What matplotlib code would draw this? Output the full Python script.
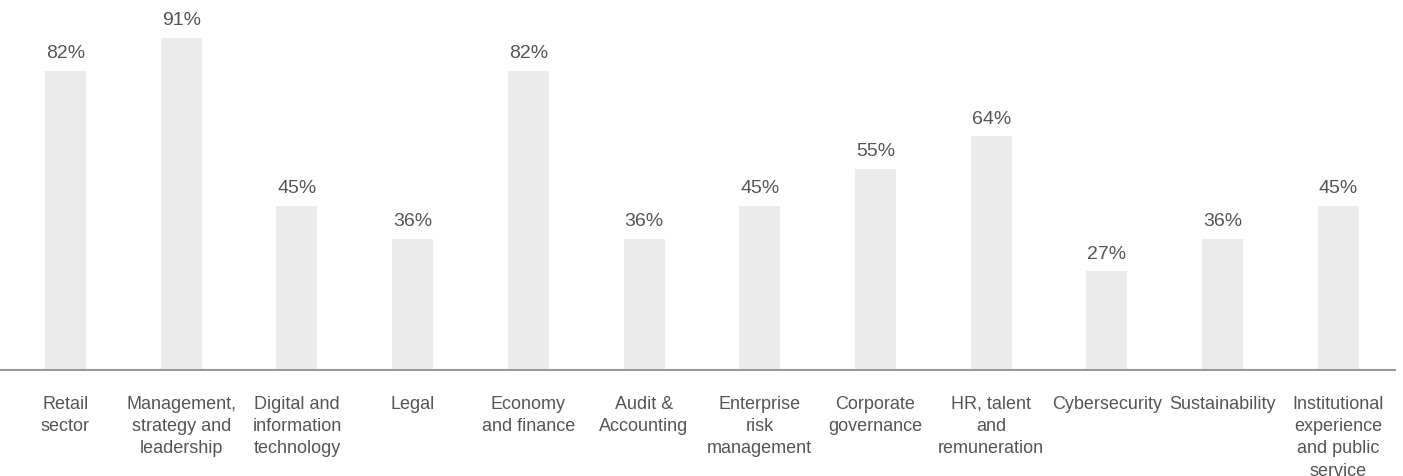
import matplotlib.pyplot as plt
import numpy as np

plt.rcParams['font.family'] = ['Liberation Sans', 'DejaVu Sans']

categories = [
    "Retail\nsector",
    "Management,\nstrategy and\nleadership",
    "Digital and\ninformation\ntechnology",
    "Legal",
    "Economy\nand finance",
    "Audit &\nAccounting",
    "Enterprise\nrisk\nmanagement",
    "Corporate\ngovernance",
    "HR, talent\nand\nremuneration",
    "Cybersecurity",
    "Sustainability",
    "Institutional\nexperience\nand public\nservice",
]
shares = [82, 91, 45, 36, 82, 36, 45, 55, 64, 27, 36, 45]

text_col = '#555555'

fig = plt.figure(figsize=(14.03, 4.77), dpi=100)
ax = fig.add_axes([0.0, 106 / 477, 1395 / 1403, 371 / 477])

x = np.arange(len(categories))
bars = ax.bar(x, shares, width=0.355, color='#ebebeb', zorder=2)

for b, v in zip(bars, shares):
    ax.annotate(f"{v}%", (b.get_x() + b.get_width() / 2, v),
                xytext=(0, 7), textcoords='offset points',
                ha='center', va='bottom', fontsize=14, color=text_col)

ax.set_xlim(-0.566, 11.49)
ax.set_ylim(0, 101.6)
ax.set_xticks(x)
ax.set_xticklabels(categories, fontsize=13, color=text_col, linespacing=1.4)
ax.tick_params(axis='x', length=0, pad=18)
ax.set_yticks([])

for side in ['top', 'right', 'left']:
    ax.spines[side].set_visible(False)
ax.spines['bottom'].set_color('#999999')
ax.spines['bottom'].set_linewidth(1.5)

fig.savefig('out.png', dpi=100)
